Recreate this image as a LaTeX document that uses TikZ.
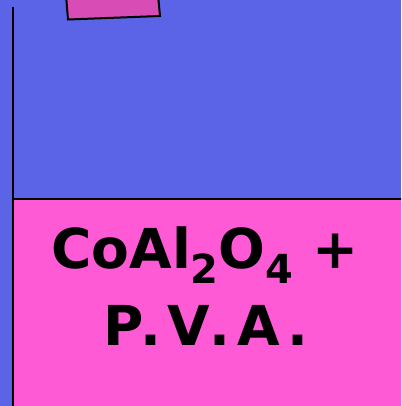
\documentclass[tikz,border=0pt]{standalone}
\usepackage{fontspec}
\setmainfont{DejaVu Sans}
\usetikzlibrary{positioning}

\definecolor{tankblue}{HTML}{5B64E6}
\definecolor{mixpink}{HTML}{FF5AD6}
\definecolor{lidpink}{HTML}{D84CB6}

\newcommand{\lowsub}[1]{\raisebox{-0.28em}{\fontsize{40}{40}\selectfont #1}}

\begin{document}
\begin{tikzpicture}[
    x=1pt, y=-1pt,
    % Styles
    wall/.style={draw=black, line width=2pt},
    label/.style={font=\fontsize{55}{60}\selectfont\bfseries, anchor=base, inner sep=0pt},
]

    % Frame
    \clip (0,0) rectangle (401,406);
    \fill[tankblue] (0,0) rectangle (401,406);

    % Lower layer
    \fill[mixpink] (13,199) rectangle (405,410);
    \draw[wall] (13,7) -- (13,410);
    \draw[wall] (13,199) -- (405,199);

    % Small tab at top
    \filldraw[fill=lidpink, draw=black, line width=2pt]
        (66,-5) -- (68,19.5) -- (160,16) -- (158,-5) -- cycle;

    % Text
    \node[label] (formula) at (205,268) {CoAl\lowsub{2}O\lowsub{4} +};
    \node[label] (binder) at (206,345) {\addfontfeature{LetterSpace=12}P.V.A.};

\end{tikzpicture}
\end{document}
